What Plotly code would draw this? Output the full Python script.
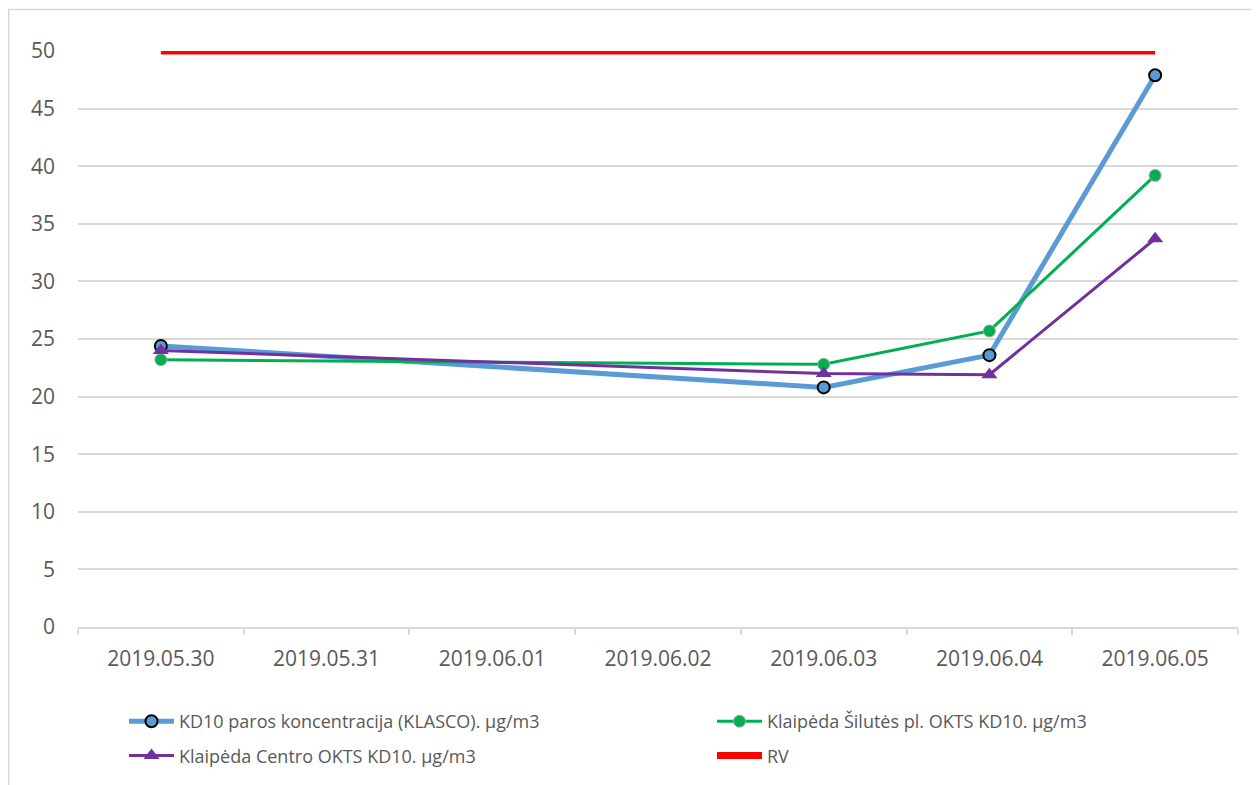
import plotly.graph_objects as go

dates = ["2019.05.30", "2019.05.31", "2019.06.01", "2019.06.02",
         "2019.06.03", "2019.06.04", "2019.06.05"]
klasco = [24.4, None, None, None, 20.8, 23.6, 47.9]
silutes = [23.2, None, None, None, 22.8, 25.7, 39.2]
centro = [24.0, None, None, None, 22.0, 21.9, 33.7]
rv = [50, 50, 50, 50, 50, 50, 50]

names = ["KD10 paros koncentracija (KLASCO). µg/m3",
         "Klaipėda Šilutės pl. OKTS KD10. µg/m3",
         "Klaipėda Centro OKTS KD10. µg/m3",
         "RV"]

# figure is drawn inside the page's 8px body margin
W, H = 1251, 777
L, R, T, B = 70, 1230, 43, 619

fig = go.Figure()
fig.add_trace(go.Scatter(
    x=dates, y=klasco, name=names[0], mode="lines+markers", connectgaps=True,
    legend="legend", legendgroup="a",
    line=dict(color="#5B9BD5", width=5),
    marker=dict(symbol="circle", size=12, color="#5B9BD5",
                line=dict(color="#000000", width=2))))
fig.add_trace(go.Scatter(
    x=dates, y=silutes, name=names[1], mode="lines+markers", connectgaps=True,
    legend="legend2", legendgroup="b",
    line=dict(color="#00B050", width=3),
    marker=dict(symbol="circle", size=12, color="#00B050",
                line=dict(color="#A6A6A6", width=1))))
fig.add_trace(go.Scatter(
    x=dates, y=centro, name=names[2], mode="lines+markers", connectgaps=True,
    legend="legend", legendgroup="c",
    line=dict(color="#7030A0", width=3),
    marker=dict(symbol="triangle-up", size=14, color="#7030A0")))
fig.add_trace(go.Scatter(
    x=dates, y=rv, name=names[3], mode="lines",
    legend="legend2", legendgroup="d",
    line=dict(color="#FF0000", width=7)))

pw = R - L
ph = B - T


def px(x):
    return (x - L) / pw


def py(y):
    return (B - y) / ph


fig.add_shape(type="rect", xref="paper", yref="paper",
              x0=px(0.75), x1=px(1275), y0=py(800), y1=py(1.5),
              line=dict(color="#D9D9D9", width=1.5), fillcolor="rgba(0,0,0,0)",
              layer="below")

leg_common = dict(orientation="v", xanchor="left", yanchor="top",
                  traceorder="grouped", font=dict(size=18, color="#595959"),
                  tracegroupgap=8, itemwidth=45, bgcolor="rgba(0,0,0,0)")

fig.update_layout(
    width=W, height=H,
    margin=dict(l=L, r=W - R, t=T, b=H - B, pad=0, autoexpand=False),
    paper_bgcolor="white", plot_bgcolor="white",
    font=dict(family="Open Sans, Noto Sans, sans-serif", size=21, color="#595959"),
    showlegend=True,
    legend=dict(x=px(116), y=py(695), **leg_common),
    legend2=dict(x=px(704), y=py(695), **leg_common),
)
fig.update_xaxes(
    type="category", categoryorder="array", categoryarray=dates,
    showgrid=False, showline=True, linecolor="#D9D9D9", linewidth=1.5,
    ticks="outside", tickson="boundaries", ticklen=6, tickcolor="#D9D9D9",
    tickwidth=1.5, tickfont=dict(size=21, color="#595959"), ticklabelstandoff=12,
    range=[-0.5, 6.5], zeroline=False)
fig.update_yaxes(
    range=[0, 50], tick0=0, dtick=5, showgrid=True, gridcolor="#D9D9D9",
    gridwidth=1.5, zeroline=False, showline=False, ticks="",
    tickfont=dict(size=21, color="#595959"), ticklabelstandoff=22)

fig.write_html("out.html")
